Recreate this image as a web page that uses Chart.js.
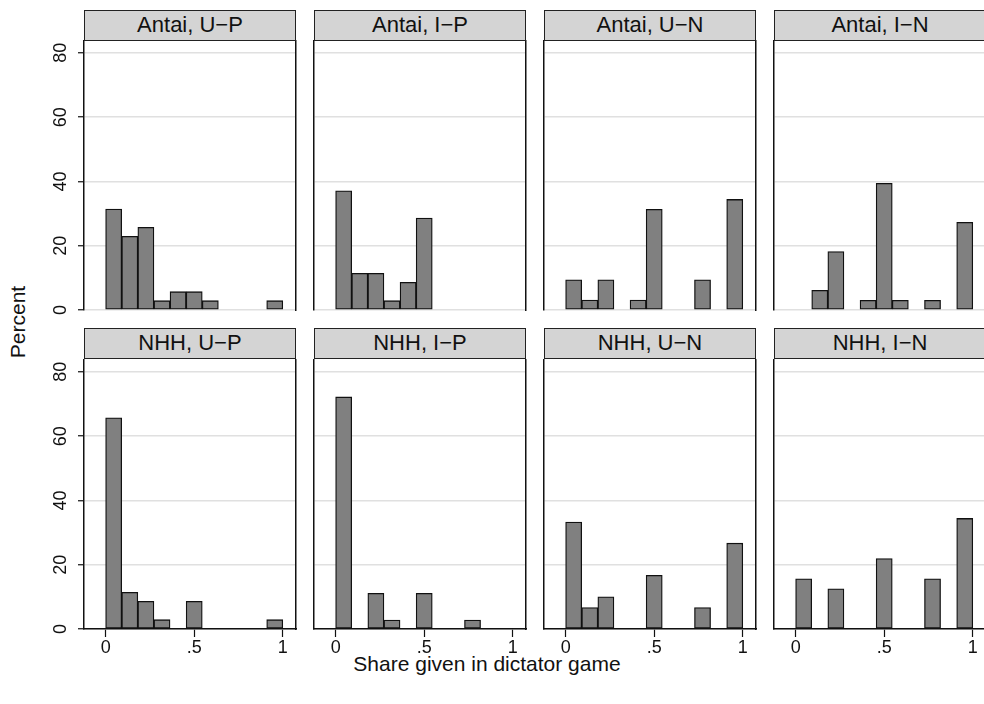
<!DOCTYPE html>
<html>
<head>
<meta charset="utf-8">
<script src="https://cdn.jsdelivr.net/npm/chart.js@4.4.1/dist/chart.umd.min.js"></script>
<style>
  body { margin: 0; background: #fff; width: 984px; height: 704px; overflow: hidden; position: relative;
         font-family: "Liberation Sans", Arial, sans-serif; color: #111; }
  .plot { position: absolute; }
  .head { position: absolute; box-sizing: border-box; border: 1.5px solid #222; background: #d4d4d4;
          text-align: center; font-size: 22px; line-height: 28px; width: 212px; height: 31px; }
  .ytitle { position: absolute; left: 18px; top: 322px; font-size: 21px; white-space: nowrap;
            transform: translate(-50%, -50%) rotate(-90deg); }
  .xtitle { position: absolute; left: 487px; top: 664px; font-size: 21px; white-space: nowrap;
            transform: translate(-50%, -50%); }
</style>
</head>
<body>
<div class="ytitle">Percent</div>
<div class="xtitle">Share given in dictator game</div>
<script>
// bin midpoints (11 bins over 0..1)
const binMid = [0.045, 0.136, 0.227, 0.318, 0.409, 0.5, 0.591, 0.682, 0.773, 0.864, 0.955];

const panelTitles = ["Antai, U\u2212P", "Antai, I\u2212P", "Antai, U\u2212N", "Antai, I\u2212N",
                     "NHH, U\u2212P", "NHH, I\u2212P", "NHH, U\u2212N", "NHH, I\u2212N"];

// percent in each bin
const antaiUP = [31.4, 22.9, 25.7, 2.9, 5.7, 5.7, 2.9, 0, 0, 0, 2.9];
const antaiIP = [37.1, 11.4, 11.4, 2.9, 8.6, 28.6, 0, 0, 0, 0, 0];
const antaiUN = [9.4, 3.1, 9.4, 0, 3.1, 31.3, 0, 0, 9.4, 0, 34.4];
const antaiIN = [0, 6.1, 18.2, 0, 3.0, 39.4, 3.0, 0, 3.0, 0, 27.3];
const nhhUP = [65.7, 11.4, 8.6, 2.9, 0, 8.6, 0, 0, 0, 0, 2.9];
const nhhIP = [72.2, 0, 11.1, 2.8, 0, 11.1, 0, 0, 2.8, 0, 0];
const nhhUN = [33.3, 6.7, 10.0, 0, 0, 16.7, 0, 0, 6.7, 0, 26.7];
const nhhIN = [15.6, 0, 12.5, 0, 0, 21.9, 0, 0, 15.6, 0, 34.4];

const panelData = [antaiUP, antaiIP, antaiUN, antaiIN, nhhUP, nhhIP, nhhUN, nhhIN];

const yTicks = [0, 20, 40, 60, 80];
const xTicks = [0, 0.5, 1];
const xTickText = ["0", ".5", "1"];

const colLeft = [84, 314, 544, 774];
const rowTop = [40, 359];
const headTop = [9.5, 328];
const AXW = 84, AXH = 40, PW = 212, PH = 270;
const ink = "#111";
const tickFont = { family: "Liberation Sans, Arial, sans-serif", size: 18 };

// no extra label padding, so every panel has the same plot box
function noPad(s) {
  s.paddingTop = 0; s.paddingBottom = 0; s.paddingLeft = 0; s.paddingRight = 0;
}

panelData.forEach((vals, i) => {
  const col = i % 4;
  const row = Math.floor(i / 4);
  const isLeft = col === 0;
  const isBottom = row === 1;

  const head = document.createElement("div");
  head.className = "head";
  head.style.left = colLeft[col] + "px";
  head.style.top = headTop[row] + "px";
  head.textContent = panelTitles[i];

  const wrap = document.createElement("div");
  wrap.className = "plot";
  wrap.style.left = (colLeft[col] - AXW) + "px";
  wrap.style.top = rowTop[row] + "px";
  const canvas = document.createElement("canvas");
  canvas.width = AXW + PW + 4;
  canvas.height = PH + AXH;
  wrap.append(canvas);
  document.body.append(wrap);
  document.body.append(head);

  new Chart(canvas, {
    type: "bar",
    data: {
      datasets: [{
        data: binMid.map((x, k) => ({ x: x, y: vals[k] })),
        backgroundColor: "#808080",
        borderColor: ink,
        borderWidth: 1.3,
        borderSkipped: false,
        barPercentage: 1,
        categoryPercentage: 1
      }]
    },
    options: {
      responsive: false,
      animation: false,
      devicePixelRatio: 1,
      layout: { padding: { left: 0, right: 4, top: 0, bottom: 0 } },
      plugins: { legend: { display: false }, tooltip: { enabled: false } },
      scales: {
        x: {
          type: "linear",
          offset: false,
          min: -0.1226,
          max: 1.0751,
          afterFit: s => { s.height = AXH; noPad(s); },
          afterBuildTicks: s => { s.ticks = xTicks.map(v => ({ value: v })); },
          border: { display: isBottom, color: ink, width: 1.5 },
          grid: { display: isBottom, offset: false, drawOnChartArea: false, drawTicks: true,
                  tickLength: 8, tickColor: ink, tickWidth: 1.2 },
          ticks: {
            display: isBottom, autoSkip: false, maxRotation: 0, padding: 0,
            color: ink, font: tickFont,
            callback: v => xTickText[xTicks.indexOf(v)]
          }
        },
        y: {
          min: 0,
          max: 84,
          afterFit: s => { s.width = AXW; noPad(s); },
          afterBuildTicks: s => { s.ticks = yTicks.map(v => ({ value: v })); },
          border: { display: true, color: ink, width: 1.5 },
          grid: { color: "#e0e0e0", lineWidth: 1.5, drawTicks: isLeft, tickLength: 6,
                  tickColor: ink, tickWidth: 1.2 },
          ticks: {
            display: isLeft, color: ink, font: tickFont,
            minRotation: 90, maxRotation: 90, crossAlign: "center", padding: 7
          }
        },
        yRight: {
          position: "right",
          display: true,
          afterFit: s => { s.width = 0; noPad(s); },
          border: { display: true, color: ink, width: 1.5 },
          grid: { display: false, drawTicks: false },
          ticks: { display: false }
        }
      }
    }
  });
});
</script>
</body>
</html>
